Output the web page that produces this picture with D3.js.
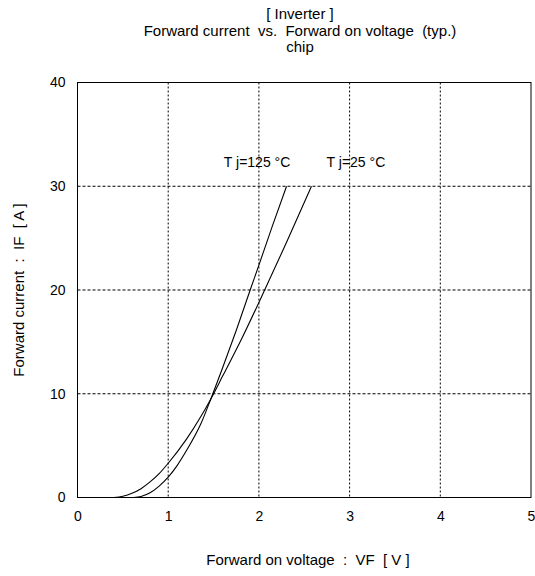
<!DOCTYPE html>
<html><head><meta charset="utf-8">
<script src="https://cdn.jsdelivr.net/npm/d3@7"></script>
<style>body{margin:0;background:#fff}svg{display:block}text{font-family:"Liberation Sans",Arial,sans-serif;fill:#000;white-space:pre}</style>
</head><body><svg id="c" width="535" height="576"></svg>
<script>
const titleLines = ["[ Inverter ]", "Forward current  vs.  Forward on voltage  (typ.)", "chip"];
const xTicks = [0, 1, 2, 3, 4, 5];
const yTicks = [0, 10, 20, 30, 40];
const xLabel = "Forward on voltage  :  VF  [ V ]";
const yLabel = "Forward current  :  IF  [ A ]";
const seriesNames = ["T j=125 °C", "T j=25 °C"];
const vf25 = [0.40, 0.50, 0.60, 0.70, 0.80, 0.90, 1.00, 1.20, 1.36, 1.47, 1.60, 1.81, 2.00, 2.30, 2.58];
const if25 = [0.0, 0.12, 0.4, 0.85, 1.5, 2.3, 3.3, 5.6, 7.8, 9.5, 11.7, 15.3, 18.8, 24.5, 30.0];
const vf125 = [0.62, 0.70, 0.80, 0.90, 1.00, 1.10, 1.20, 1.36, 1.47, 1.60, 1.75, 1.90, 2.00, 2.15, 2.305];
const if125 = [0.0, 0.1, 0.45, 1.1, 1.96, 3.1, 4.5, 7.1, 9.5, 12.5, 16.1, 19.9, 22.4, 26.2, 30.0];
const labelPos = [[1.98, 31.9], [3.07, 31.9]];

const svg = d3.select("#c");
const m = {l: 77.5, t: 82.5, r: 531, b: 497.5};
const x = d3.scaleLinear().domain([0, 5]).range([m.l, m.r]);
const y = d3.scaleLinear().domain([0, 40]).range([m.b, m.t]);

titleLines.forEach((t, i) => svg.append("text").attr("x", 300).attr("y", 19 + i * 16.5)
  .attr("text-anchor", "middle").attr("font-size", 15).text(t));

// grid
const g = svg.append("g");
g.selectAll("line.vx").data(xTicks.slice(1, -1)).join("line")
  .attr("x1", d => x(d)).attr("x2", d => x(d)).attr("y1", m.t).attr("y2", m.b)
  .attr("stroke", "#000").attr("stroke-dasharray", "2,2");
g.selectAll("line.hy").data(yTicks.slice(1, -1)).join("line")
  .attr("x1", m.l).attr("x2", m.r).attr("y1", d => y(d)).attr("y2", d => y(d))
  .attr("stroke", "#000").attr("stroke-dasharray", "3,2");
svg.append("rect").attr("x", m.l).attr("y", m.t).attr("width", m.r - m.l).attr("height", m.b - m.t)
  .attr("fill", "none").attr("stroke", "#000");

// axes
const xa = svg.append("g").attr("transform", `translate(0,${m.b})`)
  .call(d3.axisBottom(x).tickValues(xTicks).tickSize(0).tickPadding(14).tickFormat(d3.format("d")));
const ya = svg.append("g").attr("transform", `translate(${m.l},0)`)
  .call(d3.axisLeft(y).tickValues(yTicks).tickSize(0).tickPadding(12).tickFormat(d3.format("d")));
[xa, ya].forEach(a => { a.select(".domain").remove(); a.selectAll("text").attr("font-size", 14).attr("font-family", "Liberation Sans, Arial, sans-serif"); });

svg.append("text").attr("x", 308).attr("y", 565).attr("text-anchor", "middle").attr("font-size", 15).text(xLabel);
svg.append("text").attr("transform", "translate(24,290) rotate(-90)").attr("text-anchor", "middle").attr("font-size", 15).text(yLabel);

// curves
const line = d3.line().x(d => x(d[0])).y(d => y(d[1])).curve(d3.curveMonotoneX);
const s125 = vf125.map((v, i) => [v, if125[i]]);
const s25 = vf25.map((v, i) => [v, if25[i]]);
[s125, s25].forEach(s => svg.append("path").datum(s).attr("d", line)
  .attr("fill", "none").attr("stroke", "#000").attr("stroke-width", 1.1));

seriesNames.forEach((n, i) => svg.append("text").attr("x", x(labelPos[i][0])).attr("y", y(labelPos[i][1]))
  .attr("font-size", 14).attr("text-anchor", "middle").text(n));
</script></body></html>
